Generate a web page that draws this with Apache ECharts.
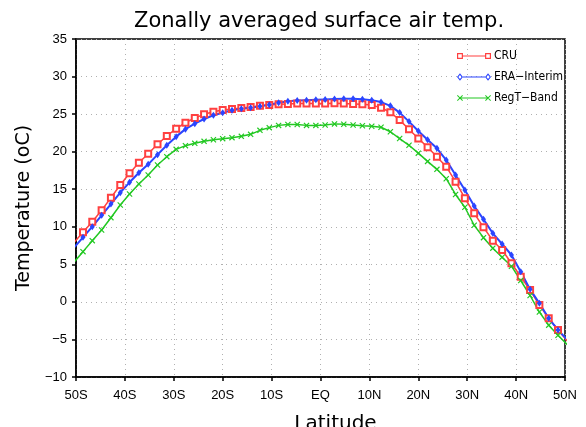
<!DOCTYPE html>
<html>
<head>
<meta charset="utf-8">
<script src="https://cdn.jsdelivr.net/npm/echarts@6/dist/echarts.min.js"></script>
<style>
  html, body { margin: 0; padding: 0; background: #fff; }
  #chart { width: 586px; height: 427px; }
</style>
</head>
<body>
<div id="chart"></div>
<script>
// 纬度（T62 高斯格点，两端各多一个点，画到边框外被裁掉）
const latitudes = [
  -50.48, -48.57, -46.67, -44.76, -42.86, -40.95, -39.05, -37.14, -35.24, -33.33,
  -31.43, -29.52, -27.62, -25.71, -23.81, -21.90, -20.00, -18.10, -16.19, -14.29,
  -12.38, -10.48, -8.57, -6.67, -4.76, -2.86, -0.95, 0.95, 2.86, 4.76,
  6.67, 8.57, 10.48, 12.38, 14.29, 16.19, 18.10, 20.00, 21.90, 23.81,
  25.71, 27.62, 29.52, 31.43, 33.33, 35.24, 37.14, 39.05, 40.95, 42.86,
  44.76, 46.67, 48.57, 50.48
];

const cruTemp = [
  7.84, 9.26, 10.68, 12.19, 13.87, 15.56, 17.12, 18.53, 19.73, 20.98,
  22.09, 23.06, 23.86, 24.48, 24.97, 25.32, 25.55, 25.68, 25.81, 25.95,
  26.10, 26.20, 26.30, 26.35, 26.40, 26.40, 26.40, 26.40, 26.45, 26.40,
  26.35, 26.30, 26.20, 25.85, 25.25, 24.20, 22.98, 21.75, 20.60, 19.33,
  18.00, 16.00, 13.80, 11.80, 9.93, 8.15, 6.91, 5.14, 3.35, 1.58,
  -0.42, -2.19, -3.74, -5.20
];

const eraTemp = [
  7.17, 8.59, 10.01, 11.52, 13.03, 14.54, 15.92, 17.20, 18.31, 19.60,
  20.85, 22.00, 23.00, 23.73, 24.35, 24.84, 25.19, 25.51, 25.70, 25.85,
  26.05, 26.25, 26.50, 26.70, 26.80, 26.85, 26.90, 26.95, 27.00, 27.05,
  27.05, 26.97, 26.84, 26.60, 26.10, 25.20, 24.00, 22.75, 21.58, 20.44,
  18.89, 16.89, 14.90, 12.77, 10.99, 9.13, 7.71, 6.24, 4.02, 1.67,
  -0.19, -2.19, -3.74, -5.05
];

const regtTemp = [
  5.23, 6.69, 8.15, 9.57, 11.21, 12.90, 14.36, 15.69, 16.89, 18.22,
  19.33, 20.31, 20.80, 21.11, 21.38, 21.59, 21.73, 21.86, 22.04, 22.31,
  22.84, 23.20, 23.50, 23.62, 23.62, 23.50, 23.50, 23.55, 23.70, 23.65,
  23.55, 23.45, 23.38, 23.25, 22.65, 21.75, 20.85, 19.80, 18.70, 17.65,
  16.40, 14.30, 12.60, 10.20, 8.55, 7.15, 5.95, 4.75, 2.85, 0.85,
  -1.35, -3.10, -4.45, -5.70
];

const xTickLabels = ['50S', '40S', '30S', '20S', '10S', 'EQ', '10N', '20N', '30N', '40N', '50N'];
const seriesNames = ['CRU', 'ERA\u2212Interim', 'RegT\u2212Band'];

const labelFont = "'Liberation Sans', Arial, sans-serif";
const legendFont = "'Liberation Sans Narrow', 'DejaVu Sans Condensed', 'Liberation Sans', sans-serif";
const nameFont = "'DejaVu Sans', sans-serif";

const toPairs = (vals) => latitudes.map((lat, i) => [lat, vals[i]]);

// 图例图标：线两端各一个标记
const iconCru = 'path://M0,1.5H7V8.5H0ZM1.4,2.9V7.1H5.6V2.9ZM33,1.5H40V8.5H33ZM34.4,2.9V7.1H38.6V2.9ZM7,4.4H33V5.6H7Z';
const iconEra = 'path://M0,5L3.5,0.5L7,5L3.5,9.5ZM1.6,5L3.5,7.4L5.4,5L3.5,2.6ZM33,5L36.5,0.5L40,5L36.5,9.5ZM34.6,5L36.5,7.4L38.4,5L36.5,2.6ZM7,4.3H33V5.7H7Z';
const iconReg = 'path://M0,2.3L0.8,1.5L7,7.7L6.2,8.5ZM6.2,1.5L7,2.3L0.8,8.5L0,7.7ZM33,2.3L33.8,1.5L40,7.7L39.2,8.5ZM39.2,1.5L40,2.3L33.8,8.5L33,7.7ZM3.5,4.4H36.5V5.6H3.5Z';
const crossSymbol = 'path://M0,1.1L1.1,0L8,6.9L6.9,8ZM6.9,0L8,1.1L1.1,8L0,6.9Z';

const colors = ['#ff4040', '#2b45ff', '#22c822'];

const myChart = echarts.init(document.getElementById('chart'), null, { renderer: 'canvas' });

const option = {
  animation: false,
  backgroundColor: '#fff',
  title: {
    text: 'Zonally averaged surface air temp.',
    left: 129,
    top: 6,
    textStyle: { fontFamily: nameFont, fontSize: 21, fontWeight: 'normal', color: '#000' }
  },
  legend: {
    orient: 'vertical',
    left: 452,
    top: 45,
    itemWidth: 34,
    itemHeight: 10,
    itemGap: 9,
    textStyle: { fontFamily: legendFont, fontSize: 12, color: '#000', padding: [0, 0, 0, -2] },
    data: [
      { name: seriesNames[0], icon: iconCru, itemStyle: { color: colors[0], borderWidth: 0 } },
      { name: seriesNames[1], icon: iconEra, itemStyle: { color: colors[1], borderWidth: 0 } },
      { name: seriesNames[2], icon: iconReg, itemStyle: { color: colors[2], borderWidth: 0 } }
    ]
  },
  grid: {
    left: 76,
    right: 21,
    top: 39,
    bottom: 50,
    outerBoundsMode: 'none',
    containLabel: false,
    show: true,
    borderColor: '#000',
    borderWidth: 1.5,
    backgroundColor: 'transparent'
  },
  xAxis: {
    type: 'value',
    min: -50,
    max: 50,
    interval: 10,
    name: 'Latitude',
    nameLocation: 'middle',
    nameGap: 37,
    nameTextStyle: { fontFamily: nameFont, fontSize: 20, color: '#000', padding: [0, 0, 0, 30] },
    axisLine: { show: true, onZero: false, lineStyle: { color: '#000', width: 1.5 } },
    axisTick: { show: true, length: 4, lineStyle: { color: '#000', width: 1.5 } },
    axisLabel: {
      margin: 12,
      fontFamily: labelFont,
      fontSize: 13,
      color: '#000',
      formatter: (v) => xTickLabels[Math.round((v + 50) / 10)]
    },
    splitLine: { show: true, lineStyle: { color: '#b0b0b0', width: 1, type: [1, 4] } }
  },
  yAxis: {
    type: 'value',
    min: -10,
    max: 35,
    interval: 5,
    name: 'Temperature (oC)',
    nameLocation: 'middle',
    nameGap: 31,
    nameTextStyle: { fontFamily: nameFont, fontSize: 19, color: '#000' },
    axisLine: { show: true, onZero: false, lineStyle: { color: '#000', width: 1.5 } },
    axisTick: { show: true, length: 4, lineStyle: { color: '#000', width: 1.5 } },
    axisLabel: {
      margin: 9,
      fontFamily: labelFont,
      fontSize: 13,
      color: '#000',
      formatter: (v) => String(v).replace('-', '\u2212')
    },
    splitLine: { show: true, lineStyle: { color: '#b0b0b0', width: 1, type: [1, 4] } }
  },
  series: [
    {
      name: seriesNames[0],
      type: 'line',
      data: toPairs(cruTemp),
      symbol: 'emptyRect',
      symbolSize: 6,
      showAllSymbol: true,
      lineStyle: { color: colors[0], width: 1.5 },
      itemStyle: { color: colors[0], borderColor: colors[0], borderWidth: 1.5 }
    },
    {
      name: seriesNames[1],
      type: 'line',
      data: toPairs(eraTemp),
      symbol: 'diamond',
      symbolSize: [5, 7],
      showAllSymbol: true,
      lineStyle: { color: colors[1], width: 2 },
      itemStyle: { color: colors[1] }
    },
    {
      name: seriesNames[2],
      type: 'line',
      data: toPairs(regtTemp),
      symbol: crossSymbol,
      symbolSize: 6,
      showAllSymbol: true,
      lineStyle: { color: colors[2], width: 1.5 },
      itemStyle: { color: colors[2] }
    }
  ]
};

myChart.setOption(option);
</script>
</body>
</html>
